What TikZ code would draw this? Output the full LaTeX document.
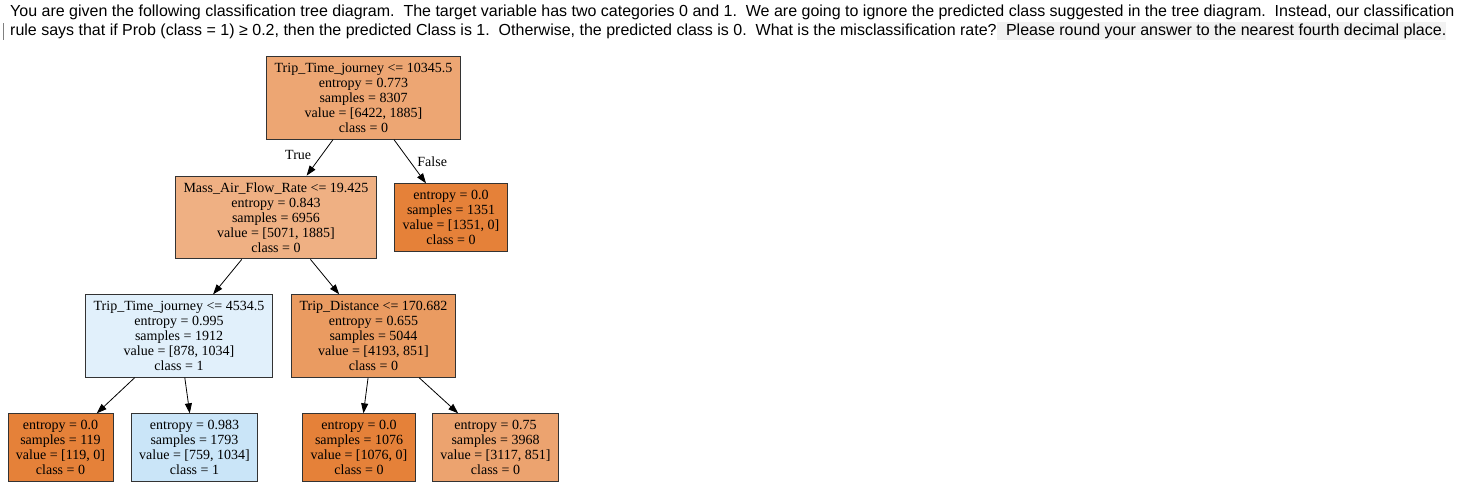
\documentclass[tikz,border=0pt]{standalone}
\usepackage{fontspec}
\setmainfont{Liberation Serif}
\newfontfamily\headfont{Liberation Sans}
\usetikzlibrary{arrows.meta}

\definecolor{pure0}{HTML}{E58139}
\definecolor{rootfill}{HTML}{EDA673}
\definecolor{massfill}{HTML}{EFB083}
\definecolor{distfill}{HTML}{EA9B61}
\definecolor{leafmix}{HTML}{ECA36F}
\definecolor{tripfill}{HTML}{E1F0FB}
\definecolor{leafblue}{HTML}{CAE5F8}
\definecolor{hilite}{HTML}{F2F2F2}

\newcommand\treefont{\fontsize{14}{15}\selectfont}
\newcommand\askfont{\headfont\fontsize{16}{18}\selectfont}

\begin{document}
\begin{tikzpicture}[x=1pt,y=-1pt]
\useasboundingbox (0,0) rectangle (1472,501);

% Question text
\begin{scope}[
		every node/.style = {anchor = west, inner sep = 0, font = \askfont}]
	\node (Q1) at (10,12) {You are given the following classification tree diagram.\ \ The target variable has two categories 0 and 1.\ \ We are going to ignore the predicted class suggested in the tree diagram.\ \ Instead, our classification};
	\node (Q2) at (10,31) {rule says that if Prob (class = 1) ≥ 0.2, then the predicted Class is 1.\ \ Otherwise, the predicted class is 0.\ \ What is the misclassification rate?};
	\node[fill = hilite, inner ysep = 2] (Q3) at (Q2.east) {\ \ Please round your answer to the nearest fourth decimal place.};
	\node[fill = gray, minimum width = 1.2, minimum height = 17] (cursor) at (2.5,31) {};
\end{scope}

% Tree nodes
\begin{scope}[
		every node/.style = {shape = rectangle, draw = black!80,
		line width = .9pt, align = center, font = \treefont,
		inner xsep = 8, inner ysep = 6.5}]
	\node[fill = rootfill] (root) at (363.5,98) {Trip\_Time\_journey <= 10345.5\\entropy = 0.773\\samples = 8307\\value = [6422, 1885]\\class = 0};
	\node[fill = massfill] (mass) at (276,217.5) {Mass\_Air\_Flow\_Rate <= 19.425\\entropy = 0.843\\samples = 6956\\value = [5071, 1885]\\class = 0};
	\node[fill = pure0] (L1351) at (451,217.5) {entropy = 0.0\\samples = 1351\\value = [1351, 0]\\class = 0};
	\node[fill = tripfill] (trip) at (179,336) {Trip\_Time\_journey <= 4534.5\\entropy = 0.995\\samples = 1912\\value = [878, 1034]\\class = 1};
	\node[fill = distfill] (dist) at (373.5,336) {Trip\_Distance <= 170.682\\entropy = 0.655\\samples = 5044\\value = [4193, 851]\\class = 0};
	\node[fill = pure0] (L119) at (60.5,447.5) {entropy = 0.0\\samples = 119\\value = [119, 0]\\class = 0};
	\node[fill = leafblue] (L1793) at (194.5,447.5) {entropy = 0.983\\samples = 1793\\value = [759, 1034]\\class = 1};
	\node[fill = pure0] (L1076) at (359,447.5) {entropy = 0.0\\samples = 1076\\value = [1076, 0]\\class = 0};
	\node[fill = leafmix] (L3968) at (495.5,447.5) {entropy = 0.75\\samples = 3968\\value = [3117, 851]\\class = 0};
\end{scope}

% Edges
\begin{scope}[
		every node/.style = {inner sep = 0, font = \treefont},
	    every edge/.style = {draw = black, line width = .8pt,
	    -{Triangle[length = 10pt, width = 7pt]}}]
	\path (root) edge node[pos = .435, left = 10pt] {True} (mass);
	\path (root) edge node[pos = .5, right = 7pt] {False} (L1351);
	\path (mass) edge (trip);
	\path (mass) edge (dist);
	\path (trip) edge (L119);
	\path (trip) edge (L1793);
	\path (dist) edge (L1076);
	\path (dist) edge (L3968);
\end{scope}
\end{tikzpicture}
\end{document}
